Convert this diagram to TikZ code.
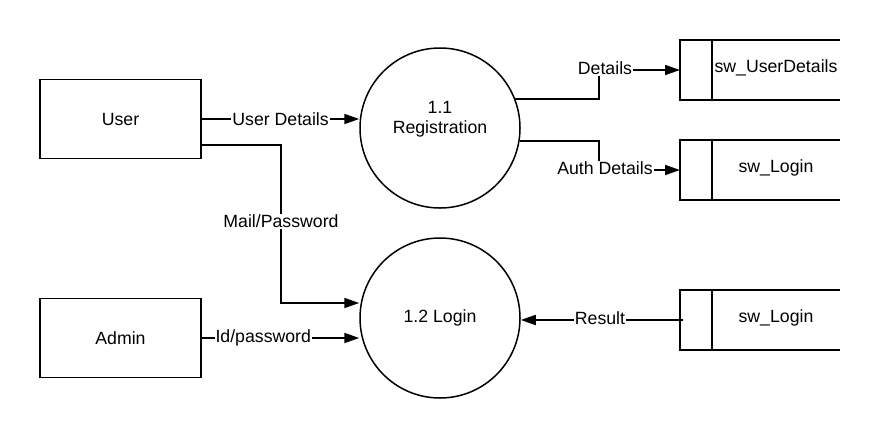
\documentclass[tikz,border=0pt]{standalone}
\usepackage{fontspec}
\setmainfont{Liberation Sans}
\usetikzlibrary{arrows.meta}
\begin{document}
\begin{tikzpicture}[x=1pt,y=-1pt,
  every node/.style={font=\fontsize{17.7}{20.5}\selectfont, inner sep=0pt},
  ext/.style={draw, line width=1.8pt, minimum width=161pt, minimum height=79pt},
  proc/.style={draw, circle, line width=1.5pt, minimum size=160pt, align=center},
  store/.style={minimum width=160pt, minimum height=60pt, anchor=west},
  lbl/.style={fill=white, inner sep=1pt},
  flow/.style={line width=1.8pt, -{Triangle[length=15pt,width=10pt]}},
  plain/.style={line width=1.8pt}]
\useasboundingbox (0,0) rectangle (880,440);
% external entities
\node[ext] (user) at (120.5,119) {User};
\node[ext] (admin) at (120.5,338) {Admin};
% processes
\node[proc] (reg) at (440,128) {};
\node[align=center] (regt) at ([yshift=9pt]reg.center) {1.1\\Registration};
\node[proc] (login) at (440,318) {1.2 Login};
% data stores
\node[store] (s1) at (680,70) {};
\node[store] (s2) at (680,170) {};
\node[store] (s3) at (680,320) {};
\foreach \s/\t in {s1/sw\_UserDetails, s2/sw\_Login, s3/sw\_Login}{
  \draw[plain] (\s.north east) -- (\s.north west) -- (\s.south west) -- (\s.south east);
  \draw[plain] ([xshift=32pt]\s.north west) -- ([xshift=32pt]\s.south west);
  \node at ([xshift=96pt,yshift=2pt]\s.west) {\t};
}
% flows
\draw[flow] (user.east) -- (user.east -| reg.west)
  node[lbl, pos=0.5] {User Details};
\draw[flow] ([yshift=-26pt]user.east) -| (281,303) -- ([yshift=15pt]login.west);
\node[lbl] (mp) at (281,221) {Mail/Password};
\draw[flow] (admin.east) -- (admin.east -| login.west)
  node[lbl, pos=0.39] {Id/password};
\draw[flow] (reg.21) -| (599,70) -- (s1.west);
\node[lbl] (ld) at (605,68) {Details};
\draw[flow] (reg.-9) -| (599,170) -- (s2.west);
\node[lbl] (la) at (605,168) {Auth Details};
\draw[flow] ([xshift=3pt]s3.west) -- (s3.west -| login.east);
\node[lbl] (lr) at (600,318) {Result};
\end{tikzpicture}
\end{document}
